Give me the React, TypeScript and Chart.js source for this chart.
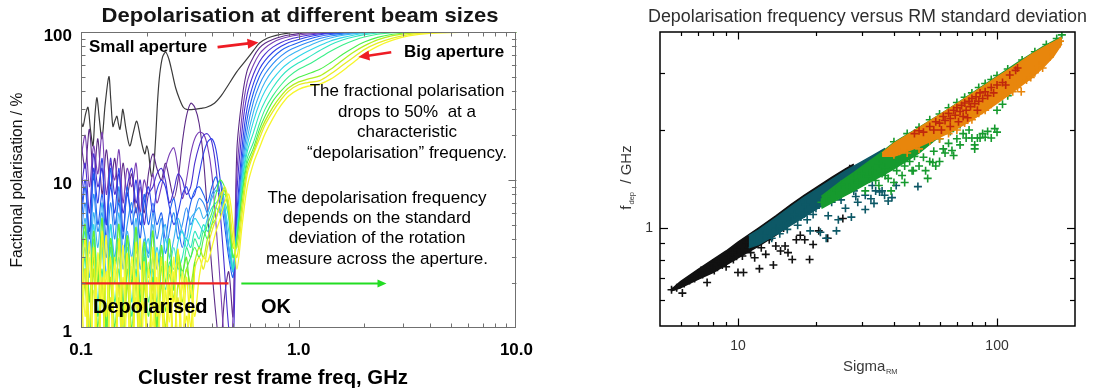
import React, { useEffect, useRef } from "react";
import { Chart, registerables } from "chart.js";

Chart.register(...registerables);

const FONT = '"Liberation Sans", Arial, Helvetica, sans-serif';

// ---------------- LEFT PANEL DATA ----------------
// shared frequency grids (GHz)
const LOW_FREQ = [0.1, 0.1045, 0.1093, 0.1143, 0.1195, 0.125, 0.1307, 0.1366, 0.1429, 0.1494, 0.156, 0.163, 0.171, 0.179, 0.187, 0.195, 0.204, 0.214, 0.223, 0.234, 0.244, 0.255, 0.267, 0.279, 0.292, 0.305, 0.319, 0.333, 0.349, 0.365, 0.381, 0.399, 0.417, 0.436, 0.456, 0.477, 0.499];
const HIGH_FREQ = [0.52, 0.55, 0.58, 0.62, 0.66, 0.7, 0.76, 0.83, 0.9, 1.0, 1.1, 1.25, 1.4, 1.6, 1.8, 2.0, 2.3, 2.7, 3.2, 4.0, 5.5, 10];

// small aperture (black curve)
const BLACK_FREQ = [0.1, 0.1021, 0.105, 0.1077, 0.1105, 0.1135, 0.116, 0.1184, 0.121, 0.1248, 0.129, 0.1343, 0.137, 0.1401, 0.143, 0.1462, 0.1485, 0.1509, 0.1535, 0.1557, 0.161, 0.1675, 0.174, 0.1803, 0.188, 0.1963, 0.2005, 0.2046, 0.208, 0.2114, 0.216, 0.2205, 0.225, 0.23, 0.237, 0.245, 0.253, 0.2609, 0.272, 0.2839, 0.295, 0.3054, 0.33, 0.355, 0.3775, 0.41, 0.44, 0.466, 0.52, 0.575, 0.62, 0.659, 0.72, 0.787, 0.88, 1.0, 1.3, 10];
const BLACK_POL = [25, 23, 28, 31, 22, 17, 28, 36, 27, 19, 32, 50, 35, 23, 25, 27, 24, 22, 26, 30, 22, 17, 21, 25, 19, 15, 17, 15, 12, 10.5, 12.5, 20, 35, 52, 68, 73, 66, 55, 42, 35, 31, 30, 30, 30.5, 31, 33, 37, 42, 54, 65, 75, 84, 91, 95, 98, 99.6, 100, 100];

// beam-size curves, small -> big aperture
const C0_LOW = [18, 12, 22, 10, 19, 8, 16, 9, 14, 7, 13, 8, 11, 6, 9, 6, 11, 15, 12, 10, 13, 10, 7.5, 10, 18, 27, 33, 31, 24, 14, 6, 2.5, 1.2, 0.7, 1.6, 2.4, 1.2];
const C1_LOW = [14, 20, 9, 17, 11, 21, 8, 13, 10, 16, 7, 12, 9, 13, 6, 10, 8, 11, 7, 9, 12, 15, 16.5, 12, 7.5, 10, 15, 19, 21, 20.5, 17, 11, 5, 2, 0.8, 0.5, 1.2];
const C2_LOW = [8, 13, 6, 15, 9, 12, 5, 14, 8, 11, 6, 9, 12, 7, 10, 5, 8, 9, 11, 12, 10, 7, 8.5, 11, 10, 8, 9, 13, 17, 20, 20.5, 18, 12, 6, 2.5, 1, 0.7];
const C3_LOW = [6, 10, 4.5, 12, 7, 14, 5, 9, 6, 12, 4.5, 8, 6, 10, 5, 7, 9, 6, 8.5, 10, 9, 6.5, 5, 6, 8, 9, 7.5, 8, 11, 15, 18, 19, 16, 10, 6, 3.5, 2.5];
const C4_LOW = [5, 9, 4, 11, 5, 8, 4, 12, 5, 7, 4, 9, 5, 6.5, 4, 8, 5, 7, 5, 6, 4, 6, 7.5, 5, 3.5, 5, 7, 8.5, 9, 8, 7, 9, 10.5, 8, 5, 3, 2.2];
const C5_LOW = [4, 7, 3.2, 8, 4.5, 6, 3, 7, 4, 9, 3.2, 5, 7, 3.2, 6, 4.5, 3.2, 6, 4, 5.5, 3.2, 4.5, 6, 4, 5, 6.5, 5, 6, 7.5, 7, 6, 8, 9, 10, 7, 3.5, 2.4];
const C6_LOW = [3, 5.5, 2.2, 6, 3.5, 7, 2.2, 5, 3, 6, 2.5, 4.5, 3, 5.5, 2.5, 4, 3, 5, 2.5, 4, 5, 3, 4, 5.5, 4.5, 4, 5.5, 6, 6.5, 5.5, 6, 7.5, 8.5, 8, 6, 3.5, 2.4];
const C7_LOW = [2.5, 4.5, 1.5, 5, 2, 4, 1.2, 5, 2.5, 4, 1.5, 3.5, 2.2, 4.5, 1.8, 3, 4, 2, 3.5, 2.5, 4, 3, 2.5, 3.8, 4.5, 3.5, 4.5, 5.5, 5, 4.5, 5.5, 6.5, 7, 7.5, 6.5, 4.5, 2.5];
const C8_LOW = [2, 3.5, 1, 4, 1.5, 3.5, 0.9, 4, 2, 3, 1.2, 4, 1.5, 3, 1, 3.5, 2, 3, 1.5, 3.5, 2, 2.5, 3.5, 2.5, 3, 4, 3.5, 4.5, 4, 5, 4.5, 5.5, 6.5, 6, 7, 5.5, 2.5];
const C9_LOW = [1.5, 3, 0.8, 3.5, 1.2, 2.5, 0.7, 3.5, 1.5, 2.5, 0.9, 3, 1.2, 2.5, 0.8, 3, 1.5, 2.5, 1, 3, 1.8, 2.8, 2, 3, 2.2, 3.5, 3, 4, 3.5, 4.5, 4, 5, 5.5, 7, 8, 6.5, 3];
const C10_LOW = [1.2, 2.5, 0.6, 3, 1, 2, 0.5, 2.8, 1, 2, 0.6, 2.5, 1, 2, 0.6, 2.5, 1.2, 2.2, 0.8, 2.6, 1.3, 2.3, 1.6, 2.8, 2, 2.5, 3, 3.5, 3, 4, 5, 6, 8, 10, 9, 6, 3];
const C11_LOW = [1, 2, 0.5, 2.5, 0.7, 1.8, 0.5, 2.2, 0.7, 1.6, 0.5, 2, 0.8, 1.6, 0.5, 2, 0.8, 1.7, 0.6, 2, 1, 1.8, 0.7, 2, 1.5, 2.5, 2, 2.8, 3.5, 3, 4, 5, 6.5, 8, 8.5, 6, 3.5];
const C12_LOW = [0.8, 2.5, 0.5, 1.8, 0.5, 2.2, 0.6, 1.6, 0.5, 2, 0.5, 1.5, 0.5, 2.2, 0.6, 1.5, 0.5, 2, 0.7, 1.5, 0.5, 2, 0.8, 1.6, 0.6, 1.2, 0.8, 2.5, 3, 2.5, 3.5, 4.5, 5.5, 7, 9, 7, 4];
const C13_LOW = [2.5, 0.6, 3, 0.6, 2.8, 0.5, 2.4, 0.6, 3, 0.5, 2.2, 0.6, 2.6, 0.5, 2, 0.6, 2.8, 0.6, 2.2, 0.5, 1.8, 0.6, 2.4, 0.8, 2, 0.9, 1.8, 1.2, 2.2, 3, 2.8, 3.5, 4.5, 5.5, 7, 8, 5];

const C0_HIGH = [16, 36, 55, 68, 78, 84, 89, 93, 95.5, 97.5, 98.5, 99.3, 99.7, 100, 100, 100, 100, 100, 100, 100, 100, 100];
const C1_HIGH = [11, 28, 46, 60, 71, 78, 85, 90, 93, 95.5, 97, 98.5, 99.3, 99.8, 100, 100, 100, 100, 100, 100, 100, 100];
const C2_HIGH = [8, 22, 38, 52, 63, 71, 79, 85, 89, 92.5, 95, 97.3, 98.6, 99.5, 99.9, 100, 100, 100, 100, 100, 100, 100];
const C3_HIGH = [6, 17, 31, 45, 56, 64, 73, 80, 85, 89, 92.5, 95.8, 97.6, 99, 99.6, 99.9, 100, 100, 100, 100, 100, 100];
const C4_HIGH = [5, 14, 26, 39, 50, 58, 67, 75, 80, 85, 89, 93.5, 96.2, 98.2, 99.2, 99.7, 100, 100, 100, 100, 100, 100];
const C5_HIGH = [4.5, 12, 22, 34, 44, 52, 61, 69, 75, 80.5, 85, 90.5, 94, 96.8, 98.5, 99.3, 99.8, 100, 100, 100, 100, 100];
const C6_HIGH = [4.5, 11, 19, 29, 38, 46, 55, 63, 69, 75, 80, 86.5, 91, 95, 97.5, 98.8, 99.6, 100, 100, 100, 100, 100];
const C7_HIGH = [4.5, 10, 17, 25, 33, 40, 48, 56, 62, 68.5, 74, 81, 87, 92, 95.5, 97.7, 99.2, 99.8, 100, 100, 100, 100];
const C8_HIGH = [4, 9.5, 15.5, 21, 28, 34, 42, 50, 56, 62, 67, 75, 82, 88.5, 93, 96, 98.5, 99.5, 100, 100, 100, 100];
const C9_HIGH = [4, 8.5, 14, 18, 24, 30, 37, 44, 50, 56, 60, 67, 74, 82, 88, 92.5, 96.5, 98.8, 99.6, 100, 100, 100];
const C10_HIGH = [4, 8, 13, 16.5, 22, 27, 34, 40, 45, 49.5, 52, 56, 62, 71, 79, 85.5, 92, 96.5, 98.8, 99.7, 100, 100];
const C11_HIGH = [3.5, 7, 12, 15.5, 20.5, 25, 31, 37, 42, 46, 48, 50.5, 56, 65, 73.5, 80.5, 88.5, 94.5, 98, 99.5, 100, 100];
const C12_HIGH = [3, 6, 11, 15, 19, 23.5, 29, 35, 40, 44, 45.5, 47, 52, 60, 68, 76, 84, 91, 96, 99, 99.8, 100];
const C13_HIGH = [2.5, 5, 9, 13, 16.5, 20.5, 26, 32, 37, 41, 43, 44.5, 48, 55, 63, 71, 80, 88, 94, 98, 99.6, 100];

// extra low-frequency traces of the largest apertures (0.1 - 0.35 GHz)
const YELLOW_A_LOW = [1.5, 4, 1, 3.5, 0.6, 4.5, 1.2, 3, 0.5, 4, 1, 3.2, 0.6, 3.8, 1, 2.8, 0.5, 3.5, 1.2, 3, 0.6, 2.6, 1.5, 3.4, 0.7, 2.2, 1, 2.6];
const YELLOW_B_LOW = [4.5, 1.2, 3.8, 0.5, 3.2, 1.5, 4.2, 0.5, 2.8, 1.2, 3.6, 0.5, 3, 1.4, 4, 0.6, 2.5, 1, 3.2, 0.5, 2.8, 1.1, 3, 0.6, 2.4, 0.8, 2, 0.6];
const GREEN_A_LOW = [3, 5, 1.5, 4.5, 2, 5.5, 1, 4, 2.5, 5, 1.2, 4.2, 2, 4.8, 1.5, 3.8, 2.2, 4.5, 1, 3.6, 2, 4, 1.8, 3.2, 2.4, 3, 1.6, 2.8];

const CURVE_COLORS = ["#5b2a86", "#7a3fb5", "#4a2fd0", "#2f3fe8", "#1f60f0", "#2d8cf5", "#3ab5f2", "#2fd6e8", "#2ee6c0", "#3aef8a", "#4cf04a", "#b4ef1e", "#e8ec24", "#f6f62a"];
const EXTRA_COLORS = ["#66ee33", "#f2f21e", "#fafa3a"];

// depolarised / OK markers
const RED_LINE_FREQ = [0.1, 0.476];
const GREEN_LINE_FREQ = [0.545, 2.42];
const MARKER_POL = [2, 2];

const LEFT_X_MINOR = [0.2, 0.3, 0.4, 0.5, 0.6, 0.7, 0.8, 0.9, 2, 3, 4, 5, 6, 7, 8, 9];
const LEFT_X_MAJOR = [1];
const LEFT_Y_MINOR = [2, 3, 4, 5, 6, 7, 8, 9, 20, 30, 40, 50, 60, 70, 80, 90];
const LEFT_Y_MAJOR = [10];
const LEFT_X_LABELS: [number, string][] = [[0.1, "0.1"], [1, "1.0"], [10, "10.0"]];
const LEFT_Y_LABELS: [number, string][] = [[1, "1"], [10, "10"], [100, "100"]];

// ---------------- RIGHT PANEL DATA ----------------
// dense cores of each group: sigma grid, upper and lower f_dep edges
const BLACK_BAND_S = [5.5, 6, 7, 8, 9, 10, 12, 14, 16, 18, 20, 23, 26, 28];
const BLACK_BAND_UP = [0.645, 0.685, 0.745, 0.8, 0.85, 0.905, 1.0, 1.09, 1.18, 1.26, 1.33, 1.43, 1.52, 1.57];
const BLACK_BAND_LO = [0.64, 0.655, 0.695, 0.73, 0.77, 0.81, 0.88, 0.95, 1.03, 1.12, 1.22, 1.35, 1.47, 1.55];
const TEAL_BAND_S = [11, 12, 14, 16, 18, 20, 23, 26, 30, 34, 37];
const TEAL_BAND_UP = [0.945, 0.985, 1.074, 1.162, 1.241, 1.31, 1.409, 1.497, 1.596, 1.69, 1.755];
const TEAL_BAND_LO = [0.87, 0.89, 0.955, 1.02, 1.08, 1.14, 1.22, 1.31, 1.42, 1.53, 1.62];
const GREEN_BAND_S = [21, 25, 28, 32, 36, 40, 45, 50, 57, 65, 80, 100, 120, 150, 178];
const GREEN_BAND_UP = [1.25, 1.39, 1.48, 1.6, 1.71, 1.83, 1.935, 2.035, 2.17, 2.32, 2.59, 2.92, 3.22, 3.6, 3.87];
const GREEN_BAND_LO = [1.15, 1.24, 1.3, 1.38, 1.45, 1.52, 1.61, 1.7, 1.85, 2.0, 2.32, 2.66, 2.95, 3.36, 3.72];
const ORANGE_BAND_S = [36, 40, 45, 50, 60, 70, 80, 90, 100, 115, 135, 150, 165, 178];
const ORANGE_BAND_UP = [1.7, 1.82, 1.93, 2.03, 2.225, 2.405, 2.58, 2.745, 2.905, 3.12, 3.4, 3.575, 3.72, 3.84];
const ORANGE_BAND_LO = [1.66, 1.66, 1.72, 1.78, 1.9, 2.02, 2.15, 2.28, 2.42, 2.62, 2.88, 3.1, 3.36, 3.68];

// individual crosses [sigma_RM, f_dep]
const BLACK_MARKS: [number, number][] = [[5.54, 0.646], [5.8, 0.655], [6.1, 0.631], [6.2, 0.675], [6.5, 0.69], [6.8, 0.7], [7.0, 0.725], [7.3, 0.72], [7.6, 0.68], [7.8, 0.755], [8.1, 0.74], [8.4, 0.79], [8.7, 0.77], [9.0, 0.76], [9.2, 0.82], [9.6, 0.8], [9.9, 0.86], [10.0, 0.73], [10.5, 0.73], [10.4, 0.82], [10.8, 0.9], [11.2, 0.84], [11.6, 0.81], [12.1, 0.75], [12.3, 0.87], [12.8, 0.83], [13.2, 0.92], [13.7, 0.77], [14.0, 0.88], [14.6, 0.85], [15.2, 0.88], [15.6, 0.84], [16.2, 0.8], [16.8, 0.92], [17.4, 0.95], [18.1, 0.92], [18.9, 0.8], [19.5, 0.89], [20.5, 0.98], [22.2, 0.93], [25.4, 1.07], [13.5, 0.97], [12.0, 0.93], [11.0, 0.87], [9.5, 0.84], [8.0, 0.78], [7.2, 0.74], [15, 1.0], [16, 1.05], [17, 1.1], [19, 1.2], [21, 1.28], [23, 1.36], [25, 1.44], [27, 1.52]];
const TEAL_MARKS: [number, number][] = [[11.6, 0.92], [12.5, 0.95], [13, 0.985], [13.5, 0.93], [14, 1.0], [14.5, 0.96], [15, 1.02], [15.5, 0.99], [16, 1.05], [16.5, 1.1], [17, 1.02], [17.5, 1.08], [18, 1.12], [18.5, 1.06], [19, 0.98], [19.5, 1.1], [20, 1.15], [20.8, 0.97], [21.9, 0.93], [22.3, 1.09], [23, 1.2], [24, 0.98], [24.4, 1.06], [25, 1.22], [26, 1.15], [27.4, 1.08], [28, 1.3], [29, 1.2], [31, 1.14], [32.6, 1.23], [33, 1.35], [34, 1.3], [36, 1.3], [36.8, 1.26], [39.3, 1.24], [22, 1.27], [20.5, 1.2], [18.2, 1.18], [26, 1.36], [30, 1.42], [34, 1.52], [49.5, 1.34], [28.5, 1.25], [25.5, 1.3], [31, 1.26], [35.2, 1.29], [40.8, 1.35], [29.6, 1.4], [33.5, 1.19], [38, 1.21]];
const GREEN_MARKS: [number, number][] = [[21, 1.2], [22, 1.25], [24, 1.3], [25, 1.36], [27, 1.33], [28, 1.42], [29, 1.38], [30, 1.47], [31, 1.3], [32, 1.44], [33, 1.5], [34, 1.4], [35, 1.58], [36, 1.47], [37, 1.53], [38, 1.42], [40, 1.38], [41, 1.5], [42, 1.6], [43, 1.45], [44, 1.55], [46, 1.6], [47, 1.5], [48, 1.66], [50, 1.55], [52, 1.65], [54, 1.42], [55, 1.6], [57, 1.72], [58, 1.55], [60, 1.6], [62, 1.75], [63, 1.7], [65, 1.82], [67, 1.73], [70, 1.88], [72, 1.8], [74, 1.95], [76, 1.89], [78, 2.0], [80, 1.89], [82, 1.75], [84, 1.89], [86, 1.89], [88, 1.95], [92, 1.98], [95, 1.89], [98, 2.02], [100, 2.3], [105, 2.4], [110, 2.55], [115, 2.75], [125, 2.85], [130, 3.05], [60, 1.88], [66, 1.98], [72, 2.08], [44, 1.38], [53, 1.5], [39, 1.3], [35, 1.35], [40, 1.84], [50, 2.04], [60, 2.24], [70, 2.43], [80, 2.6], [90, 2.78], [100, 2.94], [110, 3.08], [125, 3.28], [140, 3.48], [155, 3.66], [170, 3.82], [178, 3.92], [45, 1.95], [55, 2.15], [65, 2.34], [75, 2.52], [85, 2.7], [95, 2.86], [37, 1.45], [47.5, 1.5], [56.5, 1.59], [68, 1.67], [82, 1.8], [100, 1.97], [90, 1.9]];
const ORANGE_MARKS: [number, number][] = [[100, 2.5], [110, 2.6], [115, 2.62], [120, 2.7], [124, 2.62], [130, 2.85], [135, 2.9], [140, 3.0], [145, 3.15], [150, 3.1], [160, 3.35], [170, 3.6], [90, 2.3], [80, 2.15], [70, 2.0], [60, 1.88], [50, 1.75], [45, 1.7], [40, 1.68], [38, 1.7], [42, 1.72], [55, 1.85], [65, 1.95], [75, 2.1], [85, 2.25], [95, 2.4], [105, 2.55], [120, 2.78], [175, 3.75], [160, 3.6]];
const RED_MARKS: [number, number][] = [[48, 1.95], [50, 1.99], [52, 1.97], [55, 2.05], [57, 2.0], [58, 2.12], [60, 2.1], [61, 2.0], [62, 2.2], [63, 2.14], [65, 2.25], [66, 2.05], [66, 2.17], [68, 2.3], [69, 2.22], [70, 2.34], [71, 2.12], [72, 2.28], [73, 2.38], [74, 2.2], [75, 2.42], [76, 2.3], [77, 2.18], [78, 2.45], [79, 2.36], [80, 2.5], [82, 2.41], [83, 2.53], [84, 2.3], [85, 2.45], [86, 2.6], [88, 2.5], [90, 2.62], [92, 2.55], [95, 2.7], [97, 2.6], [100, 2.75], [105, 2.8], [108, 2.75], [112, 2.95], [118, 3.05], [120, 3.1]];

const GROUP_COLORS = { black: "#111111", teal: "#0d5866", green: "#169a2e", orange: "#e8860c", red: "#c0280c" };

const RIGHT_X_MINOR = [6, 7, 8, 9, 20, 30, 40, 50, 60, 70, 80, 90];
const RIGHT_X_MAJOR = [10, 100];
const RIGHT_Y_MINOR = [0.6, 0.7, 0.8, 0.9, 2, 3];
const RIGHT_Y_MAJOR = [1];
const RIGHT_X_LABELS: [number, string][] = [[10, "10"], [100, "100"]];
const RIGHT_Y_LABELS: [number, string][] = [[1, "1"]];

// ---------------- helpers ----------------
function labelFor(v: number, table: [number, string][]) {
  for (const [t, s] of table) if (Math.abs(v - t) / t < 1e-6) return s;
  return "";
}

function seg(ctx: CanvasRenderingContext2D, x1: number, y1: number, x2: number, y2: number) {
  ctx.beginPath();
  ctx.moveTo(x1, y1);
  ctx.lineTo(x2, y2);
  ctx.stroke();
}

function arrowHead(ctx: CanvasRenderingContext2D, x1: number, y1: number, x2: number, y2: number, len: number, half: number, color: string) {
  const a = Math.atan2(y2 - y1, x2 - x1);
  const c = Math.cos(a), s = Math.sin(a);
  ctx.fillStyle = color;
  ctx.beginPath();
  ctx.moveTo(x2, y2);
  ctx.lineTo(x2 - len * c + half * s, y2 - len * s - half * c);
  ctx.lineTo(x2 - len * c - half * s, y2 - len * s + half * c);
  ctx.closePath();
  ctx.fill();
}

function fitText(ctx: CanvasRenderingContext2D, text: string, cx: number, cy: number, width: number, font: string, color: string) {
  ctx.save();
  ctx.font = font;
  ctx.fillStyle = color;
  ctx.textAlign = "center";
  ctx.textBaseline = "middle";
  const w = ctx.measureText(text).width;
  ctx.translate(cx, cy);
  ctx.scale(width / w, 1);
  ctx.fillText(text, 0, 0);
  ctx.restore();
}

function text(ctx: CanvasRenderingContext2D, t: string, x: number, y: number, font: string, align: CanvasTextAlign, color = "#000") {
  ctx.font = font;
  ctx.fillStyle = color;
  ctx.textAlign = align;
  ctx.textBaseline = "middle";
  ctx.fillText(t, x, y);
}

function drawTicks(chart: any, xs: number[], len: number, isX: boolean) {
  const { ctx, chartArea: a, scales } = chart;
  for (const v of xs) {
    if (isX) {
      const p = Math.round(scales.x.getPixelForValue(v)) + 0.5;
      seg(ctx, p, a.bottom, p, a.bottom - len);
      seg(ctx, p, a.top, p, a.top + len);
    } else {
      const p = Math.round(scales.y.getPixelForValue(v)) + 0.5;
      seg(ctx, a.left, p, a.left + len, p);
      seg(ctx, a.right, p, a.right - len, p);
    }
  }
}

// ---------------- left chart ----------------
const leftDecor = {
  id: "leftDecor",
  afterDatasetsDraw(chart: any) {
    const { ctx, chartArea: a, scales } = chart;
    const X = (v: number) => scales.x.getPixelForValue(v);
    const Y = (v: number) => scales.y.getPixelForValue(v);
    ctx.save();
    arrowHead(ctx, X(GREEN_LINE_FREQ[0]), Y(2), X(2.53), Y(2), 9, 4, "#22dd22");
    ctx.strokeStyle = "#ee1c24";
    ctx.lineWidth = 2.6;
    const s1 = [X(0.424), Y(79)], s2 = [X(0.64), Y(85)];
    seg(ctx, s1[0], s1[1], s2[0] - 6, s2[1] + 0.7);
    arrowHead(ctx, s1[0], s1[1], s2[0] + 2, s2[1], 11, 5, "#ee1c24");
    const b1 = [X(2.66), Y(73)], b2 = [X(1.92), Y(68)];
    seg(ctx, b1[0], b1[1], b2[0] + 6, b2[1] - 0.8);
    arrowHead(ctx, b1[0], b1[1], b2[0] - 2, b2[1] + 0.3, 11, 5, "#ee1c24");
    ctx.strokeStyle = "#707070";
    ctx.lineWidth = 1;
    ctx.strokeRect(Math.round(a.left) + 0.5, Math.round(a.top) + 0.5, Math.round(a.right - a.left) - 1, Math.round(a.bottom - a.top) - 1);
    drawTicks(chart, LEFT_X_MINOR, 4.5, true);
    drawTicks(chart, LEFT_X_MAJOR, 8, true);
    drawTicks(chart, LEFT_Y_MINOR, 4.5, false);
    drawTicks(chart, LEFT_Y_MAJOR, 8, false);
    ctx.restore();
  },
  afterDraw(chart: any) {
    const { ctx } = chart;
    ctx.save();
    fitText(ctx, "Depolarisation at different beam sizes", 300, 16, 397, `bold 21px ${FONT}`, "#161616");
    fitText(ctx, "Cluster rest frame freq, GHz", 273, 378, 270, `bold 20px ${FONT}`, "#000");
    ctx.save();
    ctx.translate(18, 180);
    ctx.rotate(-Math.PI / 2);
    fitText(ctx, "Factional polarisation / %", 0, 0, 175, `16px ${FONT}`, "#111");
    ctx.restore();
    text(ctx, "Small aperture", 89, 47, `bold 17px ${FONT}`, "left");
    text(ctx, "Big aperture", 404, 52, `bold 17px ${FONT}`, "left");
    const f1 = `17px ${FONT}`;
    text(ctx, "The fractional polarisation", 407, 91, f1, "center");
    text(ctx, "drops to 50%  at a", 407, 112, f1, "center");
    text(ctx, "characteristic", 407, 132, f1, "center");
    text(ctx, "\u201cdepolarisation\u201d frequency.", 407, 153, f1, "center");
    text(ctx, "The depolarisation frequency", 377, 198, f1, "center");
    text(ctx, "depends on the standard", 377, 218, f1, "center");
    text(ctx, "deviation of the rotation", 377, 238, f1, "center");
    text(ctx, "measure across the aperture.", 377, 259, f1, "center");
    text(ctx, "Depolarised", 93, 307, `bold 20px ${FONT}`, "left");
    text(ctx, "OK", 261, 307, `bold 20px ${FONT}`, "left");
    ctx.restore();
  },
};

function makeLeftConfig(): any {
  const lows = [C0_LOW, C1_LOW, C2_LOW, C3_LOW, C4_LOW, C5_LOW, C6_LOW, C7_LOW, C8_LOW, C9_LOW, C10_LOW, C11_LOW, C12_LOW, C13_LOW];
  const highs = [C0_HIGH, C1_HIGH, C2_HIGH, C3_HIGH, C4_HIGH, C5_HIGH, C6_HIGH, C7_HIGH, C8_HIGH, C9_HIGH, C10_HIGH, C11_HIGH, C12_HIGH, C13_HIGH];
  const lineDs = (data: any[], color: string, width: number, tension = 0.3) => ({
    data,
    showLine: true,
    borderColor: color,
    backgroundColor: color,
    borderWidth: width,
    pointRadius: 0,
    tension,
    fill: false,
  });
  const ds: any[] = [];
  ds.push(lineDs(BLACK_FREQ.map((f, i) => ({ x: f, y: BLACK_POL[i] })), "#3a3a3a", 1.2));
  lows.forEach((low, c) => {
    const pts = LOW_FREQ.map((f, i) => ({ x: f, y: low[i] })).concat(HIGH_FREQ.map((f, i) => ({ x: f, y: highs[c][i] })));
    ds.push(lineDs(pts, CURVE_COLORS[c], c >= 11 ? 1.3 : 1.1));
  });
  [GREEN_A_LOW, YELLOW_A_LOW, YELLOW_B_LOW].forEach((low, j) => {
    ds.push(lineDs(low.map((v, i) => ({ x: LOW_FREQ[i], y: v })), EXTRA_COLORS[j], 1.3));
  });
  ds.push(lineDs(RED_LINE_FREQ.map((f, i) => ({ x: f, y: MARKER_POL[i] })), "#ee2222", 2.2, 0));
  ds.push(lineDs(GREEN_LINE_FREQ.map((f, i) => ({ x: f, y: MARKER_POL[i] })), "#22dd22", 2, 0));
  ds.forEach((d, i) => (d.order = ds.length - i));
  return {
    type: "scatter",
    data: { datasets: ds },
    plugins: [leftDecor],
    options: {
      responsive: false,
      animation: false,
      devicePixelRatio: 1,
      layout: { padding: { top: 32, right: 27, left: 0, bottom: 0 } },
      plugins: { legend: { display: false }, tooltip: { enabled: false }, title: { display: false } },
      scales: {
        x: {
          type: "logarithmic",
          min: 0.1,
          max: 10,
          afterFit: (s: any) => { s.height = 63; },
          grid: { display: false, drawTicks: false, tickLength: 0 },
          border: { display: false },
          ticks: { autoSkip: false, maxRotation: 0, minRotation: 0, padding: 12, color: "#000", font: { family: FONT, size: 17, weight: "bold" }, callback: (v: any) => labelFor(Number(v), LEFT_X_LABELS) },
        },
        y: {
          type: "logarithmic",
          min: 1,
          max: 100,
          afterFit: (s: any) => { s.width = 81; },
          grid: { display: false, drawTicks: false, tickLength: 0 },
          border: { display: false },
          ticks: { autoSkip: false, padding: 9, labelOffset: 4, color: "#000", font: { family: FONT, size: 17, weight: "bold" }, callback: (v: any) => labelFor(Number(v), LEFT_Y_LABELS) },
        },
      },
    },
  };
}

// ---------------- right chart ----------------
const rightDecor = {
  id: "rightDecor",
  afterDatasetsDraw(chart: any) {
    const { ctx, chartArea: a } = chart;
    ctx.save();
    ctx.strokeStyle = "#000";
    ctx.lineWidth = 1.5;
    ctx.strokeRect(Math.round(a.left), Math.round(a.top), Math.round(a.right - a.left), Math.round(a.bottom - a.top));
    ctx.lineWidth = 1.2;
    drawTicks(chart, RIGHT_X_MINOR, 4, true);
    drawTicks(chart, RIGHT_X_MAJOR, 7.5, true);
    drawTicks(chart, RIGHT_Y_MINOR, 5, false);
    drawTicks(chart, RIGHT_Y_MAJOR, 8, false);
    ctx.restore();
  },
  afterDraw(chart: any) {
    const { ctx } = chart;
    ctx.save();
    fitText(ctx, "Depolarisation frequency versus RM standard deviation", 322.5, 17, 439, `18px ${FONT}`, "#2e2e2e");
    ctx.font = `15px ${FONT}`;
    const wS = ctx.measureText("Sigma").width;
    ctx.font = `7.5px ${FONT}`;
    const wR = ctx.measureText("RM").width;
    const x0 = 325 - (wS + wR) / 2;
    text(ctx, "Sigma", x0, 367, `15px ${FONT}`, "left", "#3a3a3a");
    text(ctx, "RM", x0 + wS + 0.5, 372, `7.5px ${FONT}`, "left", "#3a3a3a");
    ctx.save();
    ctx.translate(82, 178);
    ctx.rotate(-Math.PI / 2);
    ctx.font = `15px ${FONT}`;
    const wf = ctx.measureText("f").width;
    const wg = ctx.measureText("  / GHz").width;
    ctx.font = `7.5px ${FONT}`;
    const wd = ctx.measureText("dep").width;
    const st = -(wf + wd + wg) / 2;
    text(ctx, "f", st, 0, `15px ${FONT}`, "left", "#3a3a3a");
    text(ctx, "dep", st + wf + 1, 5, `7.5px ${FONT}`, "left", "#3a3a3a");
    text(ctx, "  / GHz", st + wf + wd + 1, 0, `15px ${FONT}`, "left", "#3a3a3a");
    ctx.restore();
    ctx.restore();
  },
};

function makeRightConfig(): any {
  const layers: any[][] = [];
  const band = (s: number[], up: number[], lo: number[], color: string) => [
    { data: s.map((v, i) => ({ x: v, y: up[i] })), showLine: true, pointRadius: 0, borderWidth: 1.5, borderColor: color, backgroundColor: color, fill: "+1", tension: 0 },
    { data: s.map((v, i) => ({ x: v, y: lo[i] })), showLine: true, pointRadius: 0, borderWidth: 1.5, borderColor: color, backgroundColor: color, fill: false, tension: 0 },
  ];
  const marks = (pts: [number, number][], color: string) => [
    { data: pts.map(([x, y]) => ({ x, y })), showLine: false, pointStyle: "cross", pointRadius: 4, pointBorderWidth: 1.6, pointBorderColor: color, pointBackgroundColor: color, borderColor: color, backgroundColor: color },
  ];
  layers.push(band(BLACK_BAND_S, BLACK_BAND_UP, BLACK_BAND_LO, GROUP_COLORS.black));
  layers.push(marks(BLACK_MARKS, GROUP_COLORS.black));
  layers.push(band(TEAL_BAND_S, TEAL_BAND_UP, TEAL_BAND_LO, GROUP_COLORS.teal));
  layers.push(marks(TEAL_MARKS, GROUP_COLORS.teal));
  layers.push(band(GREEN_BAND_S, GREEN_BAND_UP, GREEN_BAND_LO, GROUP_COLORS.green));
  layers.push(marks(GREEN_MARKS, GROUP_COLORS.green));
  layers.push(band(ORANGE_BAND_S, ORANGE_BAND_UP, ORANGE_BAND_LO, GROUP_COLORS.orange));
  layers.push(marks(ORANGE_MARKS, GROUP_COLORS.orange));
  layers.push(marks(RED_MARKS, GROUP_COLORS.red));
  const ds: any[] = [];
  layers.forEach((layer, li) => layer.forEach((d) => { d.order = layers.length - li; ds.push(d); }));
  return {
    type: "scatter",
    data: { datasets: ds },
    plugins: [rightDecor],
    options: {
      responsive: false,
      animation: false,
      devicePixelRatio: 1,
      layout: { padding: { top: 32, right: 18, left: 0, bottom: 0 } },
      plugins: { legend: { display: false }, tooltip: { enabled: false }, title: { display: false }, filler: { propagate: false } },
      scales: {
        x: {
          type: "logarithmic",
          min: 5,
          max: 200,
          afterFit: (s: any) => { s.height = 65; },
          grid: { display: false, drawTicks: false, tickLength: 0 },
          border: { display: false },
          ticks: { autoSkip: false, maxRotation: 0, minRotation: 0, padding: 12, color: "#333", font: { family: FONT, size: 14 }, callback: (v: any) => labelFor(Number(v), RIGHT_X_LABELS) },
        },
        y: {
          type: "logarithmic",
          min: 0.5,
          max: 4,
          afterFit: (s: any) => { s.width = 115; },
          grid: { display: false, drawTicks: false, tickLength: 0 },
          border: { display: false },
          ticks: { autoSkip: false, padding: 7, color: "#333", font: { family: FONT, size: 14 }, callback: (v: any) => labelFor(Number(v), RIGHT_Y_LABELS) },
        },
      },
    },
  };
}

export default function App() {
  const leftRef = useRef<HTMLCanvasElement>(null);
  const rightRef = useRef<HTMLCanvasElement>(null);
  useEffect(() => {
    const left = new Chart(leftRef.current as HTMLCanvasElement, makeLeftConfig());
    const right = new Chart(rightRef.current as HTMLCanvasElement, makeRightConfig());
    return () => {
      left.destroy();
      right.destroy();
    };
  }, []);
  return (
    <div style={{ position: "fixed", left: 0, top: 0, width: 1093, height: 391, background: "#fff", overflow: "hidden" }}>
      <canvas ref={leftRef} width={545} height={391} style={{ position: "absolute", left: 0, top: 0, width: 545, height: 391 }} />
      <canvas ref={rightRef} width={548} height={391} style={{ position: "absolute", left: 545, top: 0, width: 548, height: 391 }} />
    </div>
  );
}
